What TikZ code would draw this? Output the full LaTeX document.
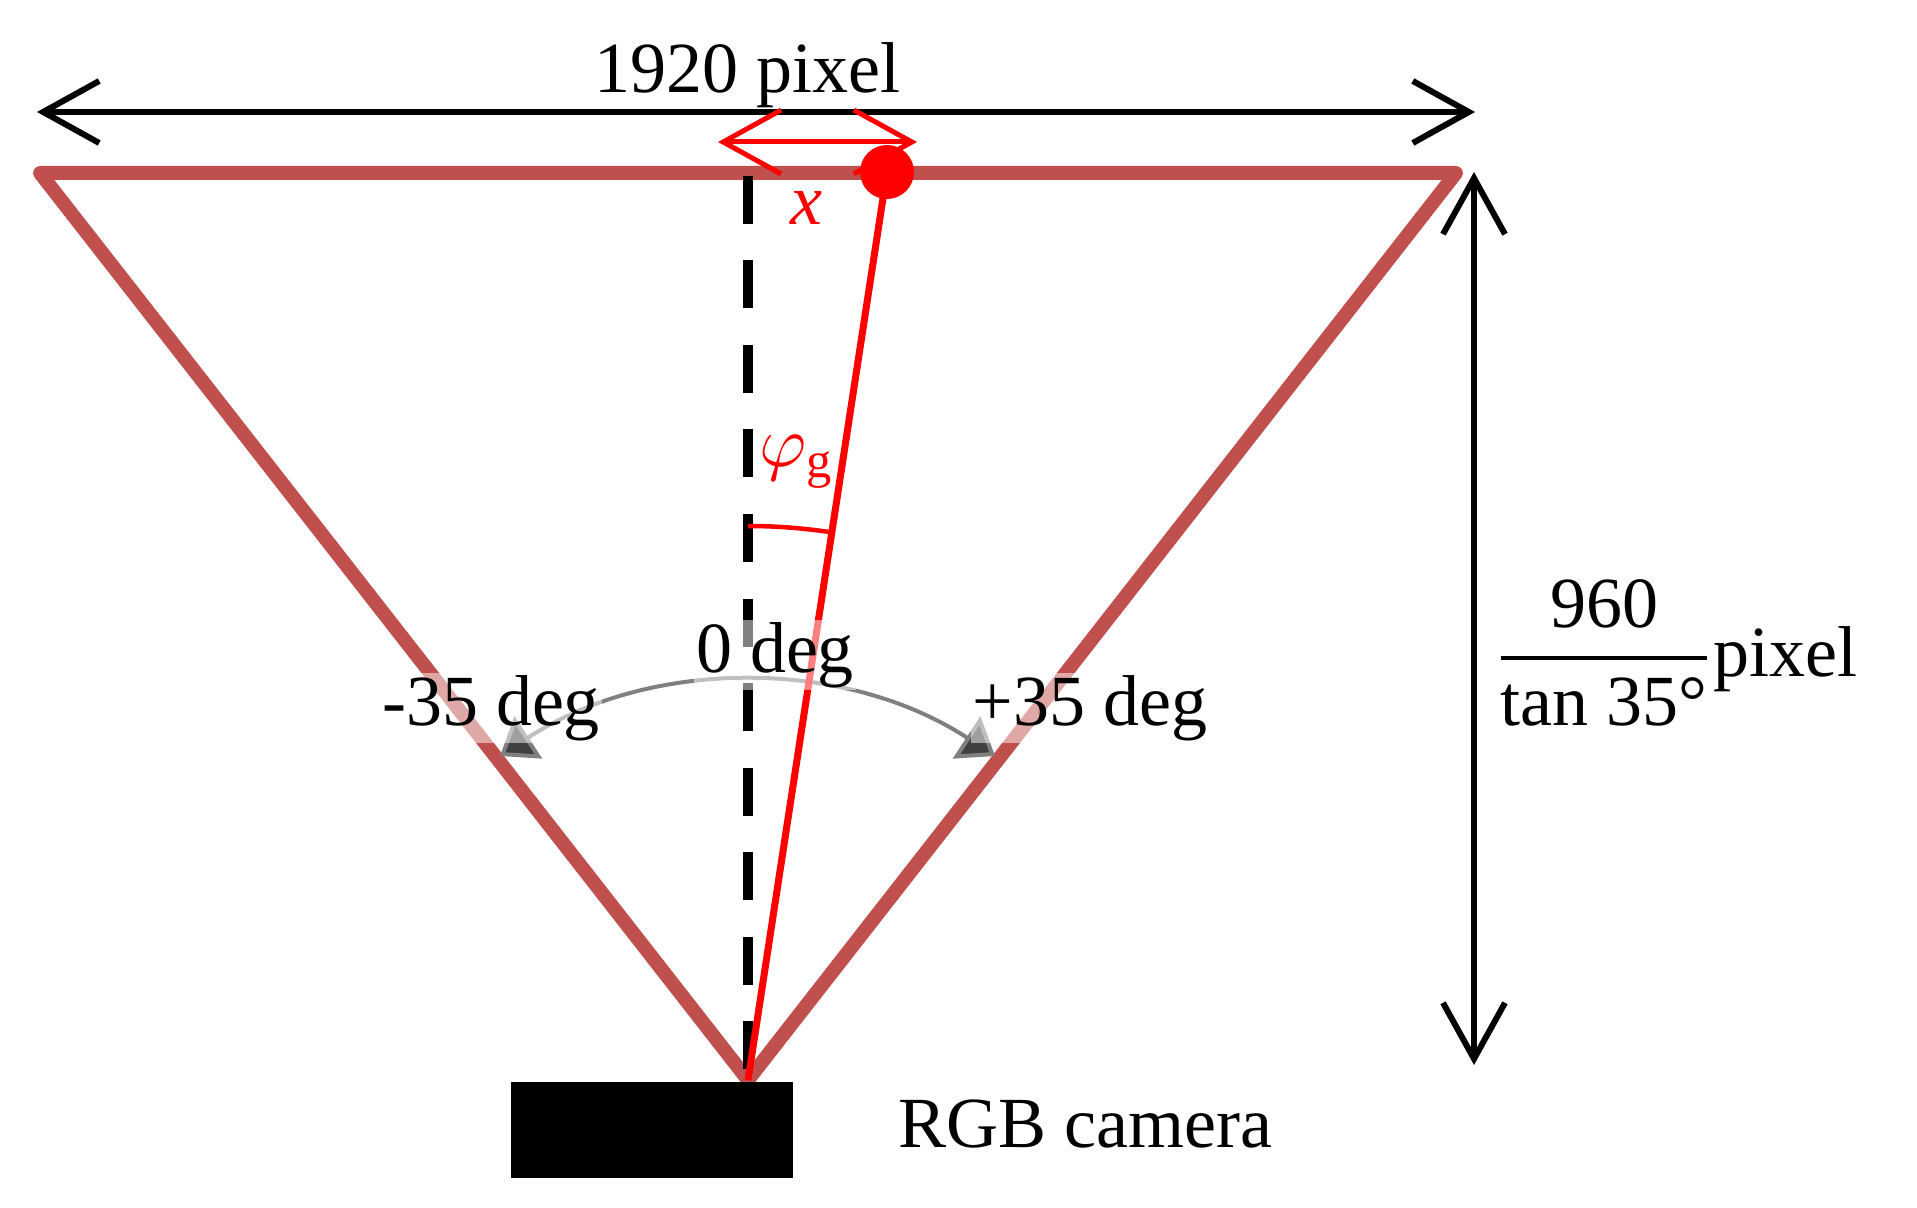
\documentclass[tikz,border=0pt]{standalone}
\usepackage{amsmath}
\usepackage{fontspec}
\setmainfont{Liberation Serif}
\usetikzlibrary{arrows.meta}
% scalable math fonts
\DeclareFontShape{OML}{cmm}{m}{it}{<->cmmi10}{}
\DeclareFontShape{OMS}{cmsy}{m}{n}{<->cmsy10}{}
\DeclareFontShape{OMX}{cmex}{m}{n}{<->cmex10}{}

\definecolor{fovred}{RGB}{192,80,77}

\tikzset{every picture/.style={line width=0.75pt},
  fov/.style={draw=fovred, line width=7pt, line join=round},
  dimarrow/.style={line width=3pt, {Straight Barb[length=28pt,width=31pt]}-{Straight Barb[length=28pt,width=31pt]}},
  xarrow/.style={red, line width=2.5pt, {Straight Barb[length=29pt,width=32pt]}-{Straight Barb[length=29pt,width=32pt]}},
  swing/.style={gray, line width=2pt, {Triangle[length=17pt,width=25pt,fill=black!75]}-{Triangle[length=17pt,width=25pt,fill=black!75]}},
  axisline/.style={line width=5pt, dash pattern=on 24pt off 18.25pt},
  degbox/.style={fill=white, fill opacity=0.5, text opacity=1, inner sep=1pt}
}

\begin{document}
\begin{tikzpicture}[x=0.5pt,y=0.5pt,yscale=-1,xscale=1,font=\fontsize{36}{43}\selectfont]
\useasboundingbox (0,0) rectangle (1917,1208);

%Points
\coordinate (tl) at (40,173);
\coordinate (tr) at (1456,173);
\coordinate (apex) at (748,1080);
\coordinate (wl) at (37,112);
\coordinate (wr) at (1475,112);
\coordinate (ht) at (1474,172);
\coordinate (hb) at (1474,1065);
\coordinate (xl) at (718,142);
\coordinate (xr) at (917,142);
\coordinate (axtop) at (748,176);
\coordinate (phitop) at (748,526);
\coordinate (swl) at (500,756);

%Field of view
\draw [fov] (tl) -- (tr) -- (apex) -- cycle ;
%Straight Lines
\draw [axisline] (axtop) -- (apex) ;
%Swing arc
\draw [swing] (swl) arc [start angle=-123.2, end angle=-56.8, radius=452] ;
%Target point
\node [circle, fill=red, inner sep=0pt, minimum size=27pt] (dot) at (887,172) {};
\draw [red, line width=3.5pt] (dot.center) -- (apex) ;
%Angle
\draw [red, line width=2.25pt] (phitop) arc [start angle=-90, end angle=-81.3, radius=554] ;
%Dimension arrows
\draw [dimarrow] (wl) -- (wr) ;
\draw [dimarrow] (ht) -- (hb) ;
\draw [xarrow] (xl) -- (xr) ;
%Camera
\node [fill=black, inner sep=0pt, minimum width=141pt, minimum height=48pt] (cam) at (652,1130) {};

% Text Node
\node [anchor=base] (width) at (747,93) {1920 pixel};
% Text Node
\node [anchor=base, text=red] (xlbl) at (806,225) {\textit{x}};
% Text Node
\node [text=red] (phi) at (796,462) {$\varphi_{\text{g}}$};
% Text Node
\node [degbox, anchor=base] (zero) at (775,672) {0 deg};
% Text Node
\node [degbox, anchor=base] (minus) at (491,725) {-35 deg};
% Text Node
\node [degbox, anchor=base] (plus) at (1090,725) {+35 deg};
% Text Node
\node [anchor=base, inner sep=0pt] (frac) at (1604,676) {$\genfrac{}{}{1.8pt}{0}{\mbox{960}}{\mbox{tan 35°}}$};
% Text Node
\node [anchor=base west, inner sep=0pt] (height) at ([xshift=1pt]frac.base east) {pixel};
% Text Node
\node [anchor=base] (camlbl) at (1085,1147) {RGB camera};

\end{tikzpicture}
\end{document}
